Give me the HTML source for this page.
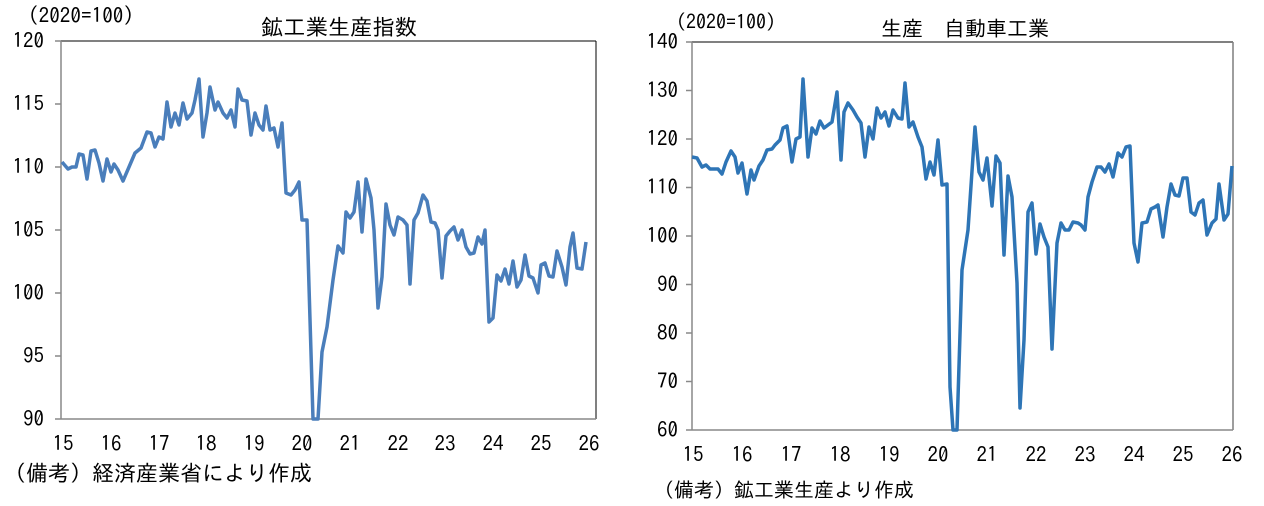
<!DOCTYPE html>
<html><head><meta charset="utf-8"><style>
html,body{margin:0;padding:0;background:#fff;width:1264px;height:506px;overflow:hidden}
svg{display:block}
text{font-family:"IPAGothic","Noto Sans CJK JP",sans-serif;fill:#000}
</style></head><body>
<svg width="1264" height="506" viewBox="0 0 1264 506">
<!-- LEFT -->
<text x="28" y="23" font-size="21" textLength="106" lengthAdjust="spacingAndGlyphs">(2020=100)</text>
<text x="261" y="35" font-size="22" textLength="156" lengthAdjust="spacingAndGlyphs">鉱工業生産指数</text>
<line x1="61" y1="41" x2="596" y2="41" stroke="#000" stroke-width="1"/>
<line x1="596" y1="41" x2="596" y2="419" stroke="#000" stroke-width="1"/>
<line x1="61" y1="41" x2="61" y2="419" stroke="#898989" stroke-width="1.5"/>
<line x1="61" y1="419" x2="596" y2="419" stroke="#898989" stroke-width="1.5"/>
<g stroke="#898989" stroke-width="1.5">
<line x1="55" y1="41" x2="61" y2="41"/><line x1="55" y1="104" x2="61" y2="104"/><line x1="55" y1="167" x2="61" y2="167"/><line x1="55" y1="230" x2="61" y2="230"/><line x1="55" y1="293" x2="61" y2="293"/><line x1="55" y1="356" x2="61" y2="356"/><line x1="55" y1="419" x2="61" y2="419"/>
</g>
<g font-size="21" text-anchor="end">
<text x="44" y="48">120</text><text x="44" y="111">115</text><text x="44" y="174">110</text><text x="44" y="237">105</text><text x="44" y="300">100</text><text x="44" y="363">95</text><text x="44" y="426">90</text>
</g>
<g font-size="21" text-anchor="middle">
<text x="63" y="451">15</text><text x="111" y="451">16</text><text x="159" y="451">17</text><text x="206" y="451">18</text><text x="254" y="451">19</text><text x="302" y="451">20</text><text x="350" y="451">21</text><text x="398" y="451">22</text><text x="445" y="451">23</text><text x="493" y="451">24</text><text x="541" y="451">25</text><text x="589" y="451">26</text>
</g>
<text x="4" y="481" font-size="22" textLength="308" lengthAdjust="spacingAndGlyphs">（備考）経済産業省により作成</text>
<polyline fill="none" stroke="#4a7ebb" stroke-width="3.5" stroke-linejoin="round" points="62,162 68,169 72,167 76,167 79,154 83,155 87,179 91,151 95,150 99,163 103,181 107,159 111,172 114,164 118,170 123,181 129,167 135,153 141,148 147,132 151,133 155,147 159,137 163,139 167,102 171,127 175,113 179,125 183,103 187,119 192,113 195,100 199,79 203,137 207,113 210,87 215,110 218,102 223,113 227,118 231,110 235,127 238,89 242,100 247,101 251,135 255,113 259,125 263,130 266,106 270,130 274,128 278,147 282,123 286,193 291,195 295,190 299,182 302,220 307,220 313,419 318,419 322,352 327,327 333,280 338,246 343,253 346,212 350,218 354,212 358,182 362,232 366,179 371,198 374,230 378,308 382,277 386,204 390,225 394,235 398,217 403,220 407,225 410,284 414,220 418,213 423,195 427,201 431,222 435,223 438,230 442,278 446,236 450,231 454,227 458,240 462,230 466,247 470,254 474,253 478,237 482,244 485,230 489,322 493,318 497,275 501,281 505,269 509,284 513,261 517,287 521,280 525,255 529,276 533,278 538,293 541,265 545,263 549,276 553,277 557,251 562,267 566,285 570,247 573,233 577,268 582,269 586,242"/>
<!-- RIGHT -->
<text x="676" y="29" font-size="20" textLength="100" lengthAdjust="spacingAndGlyphs">(2020=100)</text>
<text x="881" y="36" font-size="21" textLength="168" lengthAdjust="spacingAndGlyphs">生産　自動車工業</text>
<line x1="692" y1="42" x2="1233" y2="42" stroke="#000" stroke-width="1"/>
<line x1="1233" y1="42" x2="1233" y2="430" stroke="#7f7f7f" stroke-width="1.5"/>
<line x1="692" y1="42" x2="692" y2="430" stroke="#898989" stroke-width="1.5"/>
<line x1="692" y1="430" x2="1233" y2="430" stroke="#898989" stroke-width="1.5"/>
<g stroke="#898989" stroke-width="1.5">
<line x1="686" y1="42" x2="692" y2="42"/><line x1="686" y1="90.5" x2="692" y2="90.5"/><line x1="686" y1="139" x2="692" y2="139"/><line x1="686" y1="187.5" x2="692" y2="187.5"/><line x1="686" y1="236" x2="692" y2="236"/><line x1="686" y1="284.5" x2="692" y2="284.5"/><line x1="686" y1="333" x2="692" y2="333"/><line x1="686" y1="381.5" x2="692" y2="381.5"/><line x1="686" y1="430" x2="692" y2="430"/>
</g>
<g font-size="21" text-anchor="end">
<text x="678" y="49">140</text><text x="678" y="97.5">130</text><text x="678" y="146">120</text><text x="678" y="194.5">110</text><text x="678" y="243">100</text><text x="678" y="291.5">90</text><text x="678" y="340">80</text><text x="678" y="388.5">70</text><text x="678" y="437">60</text>
</g>
<g font-size="21" text-anchor="middle">
<text x="693" y="462">15</text><text x="742" y="462">16</text><text x="791" y="462">17</text><text x="840" y="462">18</text><text x="889" y="462">19</text><text x="938" y="462">20</text><text x="987" y="462">21</text><text x="1036" y="462">22</text><text x="1085" y="462">23</text><text x="1134" y="462">24</text><text x="1183" y="462">25</text><text x="1232" y="462">26</text>
</g>
<text x="654" y="497" font-size="20" textLength="260" lengthAdjust="spacingAndGlyphs">（備考）鉱工業生産より作成</text>
<polyline fill="none" stroke="#2e75b6" stroke-width="3.5" stroke-linejoin="round" points="692,157 697,158 702,167 706,165 710,169 718,169 722,174 726,162 731,151 735,157 738,173 742,163 747,194 751,170 754,180 759,166 763,160 767,150 772,149 775,145 780,140 783,128 787,126 792,162 796,139 800,137 803,79 808,157 812,128 816,134 820,121 824,128 828,125 832,122 837,92 841,160 844,112 848,103 853,110 857,117 861,123 865,157 869,127 873,139 877,108 881,118 885,112 889,126 893,110 898,118 902,119 905,83 909,127 913,122 918,137 922,147 926,179 930,162 934,175 938,140 942,185 947,184 950,387 953,430 957,430 962,270 968,230 975,127 979,172 983,180 987,158 992,206 996,156 1000,163 1004,255 1008,176 1012,197 1017,283 1020,408 1024,340 1028,212 1032,203 1036,254 1040,224 1044,237 1048,247 1052,349 1057,243 1061,223 1065,230 1069,230 1073,222 1078,223 1081,225 1085,230 1088,197 1092,182 1097,167 1101,167 1105,172 1109,164 1113,177 1118,153 1122,157 1126,147 1130,146 1134,243 1138,262 1142,223 1147,222 1151,209 1155,207 1158,205 1163,237 1167,207 1171,184 1175,195 1179,196 1183,178 1187,178 1191,212 1195,215 1199,203 1203,200 1207,235 1212,223 1216,219 1219,184 1224,220 1228,214 1232,166"/>
</svg>
</body></html>
